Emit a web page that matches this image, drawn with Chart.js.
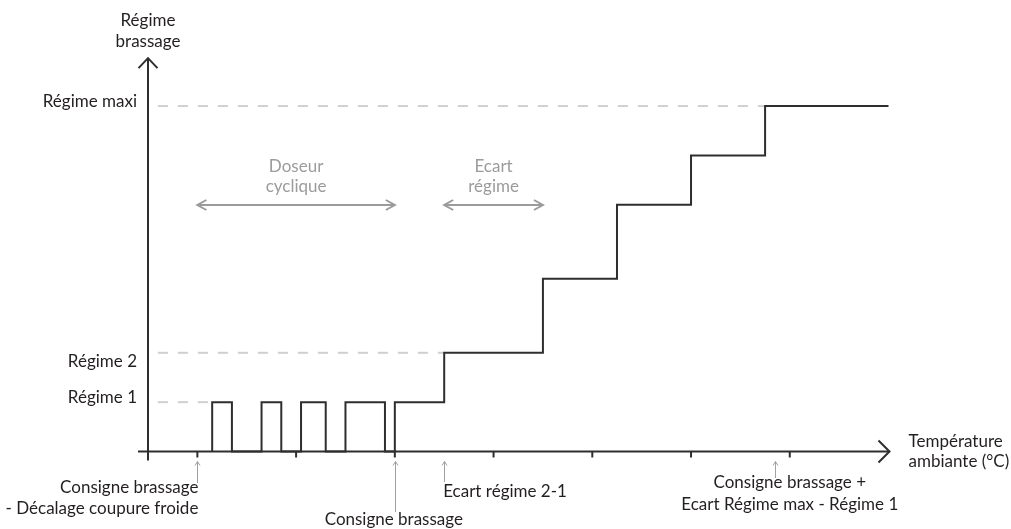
<!DOCTYPE html>
<html>
<head>
<meta charset="utf-8">
<script src="https://cdn.jsdelivr.net/npm/chart.js@4"></script>
<style>
html,body{margin:0;padding:0;background:#fff;}
#wrap{width:1011px;height:529px;}
</style>
</head>
<body>
<div id="wrap"><canvas id="c" width="1011" height="529"></canvas></div>
<script>
// ---- data ----
const temps  = [1.3, 1.3, 1.7, 2.3, 2.7, 3.1, 3.6, 4.0, 4.8, 5.0, 6.0, 8.0, 9.5, 11.0, 12.5, 15.0];
const levels = [0,   1,   0,   1,   0,   1,   0,   1,   0,   1,   2,   3.5, 5,   6,    7,    7];
const refLevels = [1, 2, 7];
const refLabels = ['Régime 1', 'Régime 2', 'Régime maxi'];
const refStart = 0.2;
const refEnds = [1.3, 6.0, 12.5];
const xTicks = [1, 3, 5, 7, 9, 11, 13];
const yTitle = ['Régime', 'brassage'];
const xTitle = ['Température', 'ambiante (°C)'];
const spanLabels = [['Doseur', 'cyclique'], ['Ecart', 'régime']];
const spanFrom = [1, 6];
const spanTo = [5, 8];
const markerX = [1, 5, 6, 12.7];
const markerLabels = [
  ['Consigne brassage', '- Décalage coupure froide'],
  ['Consigne brassage'],
  ['Ecart régime 2-1'],
  ['Consigne brassage +', 'Ecart Régime max - Régime 1']
];

const FONT = '17px Lato';
const DARK = '#231f20';
const LINE = '#2e2e2e';
const GREY = '#9b9b9b';

const refDatasets = refLevels.map((lv, i) => ({
  data: [{x: refStart, y: lv}, {x: refEnds[i], y: lv}],
  borderColor: '#cfcfcf', borderWidth: 2, borderDash: [10, 10],
  pointRadius: 0, clip: false, order: 2
}));

function line(ctx, x1, y1, x2, y2) { ctx.beginPath(); ctx.moveTo(x1, y1); ctx.lineTo(x2, y2); ctx.stroke(); }
function chevron(ctx, tx, ty, dx, dy, w) {
  const len = Math.hypot(dx, dy); const ux = dx/len, uy = dy/len;
  ctx.beginPath();
  ctx.moveTo(tx + ux*w.l - uy*w.h, ty + uy*w.l + ux*w.h);
  ctx.lineTo(tx, ty);
  ctx.lineTo(tx + ux*w.l + uy*w.h, ty + uy*w.l - ux*w.h);
  ctx.stroke();
}

const decor = {
  id: 'decor',
  afterDatasetsDraw(chart) {
    const ctx = chart.ctx; const xs = chart.scales.x, ys = chart.scales.y;
    const X = v => xs.getPixelForValue(v), Y = v => ys.getPixelForValue(v);
    ctx.save();
    ctx.lineCap = 'butt';
    // axes
    ctx.strokeStyle = LINE; ctx.lineWidth = 2;
    line(ctx, X(0), Y(0) + 9, X(0), Y(7.97));
    line(ctx, X(0) - 10, Y(0), X(15.02), Y(0));
    chevron(ctx, X(0), Y(7.97), 0, 1, {l: 10, h: 9.5});
    chevron(ctx, X(15.02), Y(0), -1, 0, {l: 11, h: 11});
    // ticks
    xTicks.forEach(t => line(ctx, X(t), Y(0), X(t), Y(0) + 6));
    // texts
    ctx.fillStyle = DARK; ctx.font = FONT; ctx.textBaseline = 'alphabetic';
    ctx.textAlign = 'center';
    ctx.fillText(yTitle[0], X(0), 26);
    ctx.fillText(yTitle[1], X(0), 47);
    ctx.textAlign = 'left';
    ctx.fillText(xTitle[0], X(15) + 20, Y(0) - 5);
    ctx.fillText(xTitle[1], X(15) + 20, Y(0) + 15);
    // level labels
    ctx.textAlign = 'right';
    const lblOff = {1: 1, 2: 14.5, 7: 1.3};
    refLevels.forEach((lv, i) => ctx.fillText(refLabels[i], X(0) - 11, Y(lv) + lblOff[lv]));
    // span arrows (grey)
    ctx.strokeStyle = GREY; ctx.fillStyle = GREY; ctx.lineWidth = 2;
    const spanY = 205;
    spanLabels.forEach((lab, i) => {
      const a = X(spanFrom[i]), b = X(spanTo[i]);
      line(ctx, a + 1, spanY, b - 1, spanY);
      chevron(ctx, a, spanY, 1, 0, {l: 9, h: 5});
      chevron(ctx, b, spanY, -1, 0, {l: 9, h: 5});
      ctx.textAlign = 'center';
      const cx = (a + b) / 2;
      ctx.fillText(lab[0], cx, 172);
      ctx.fillText(lab[1], cx, 192);
    });
    // markers under axis
    ctx.lineWidth = 1; ctx.strokeStyle = '#a0a0a0';
    const mBot = [483, 512, 482, 478];
    markerX.forEach((m, i) => {
      const x = Math.round(X(m)) + 0.5;
      line(ctx, x, Y(0) + 10, x, mBot[i]);
      chevron(ctx, x, Y(0) + 10, 0, 1, {l: 4, h: 2.5});
    });
    ctx.fillStyle = DARK;
    ctx.textAlign = 'right';
    ctx.fillText(markerLabels[0][0], X(markerX[0]) + 1, 493);
    ctx.fillText(markerLabels[0][1], X(markerX[0]) + 1, 514);
    ctx.textAlign = 'center';
    ctx.fillText(markerLabels[1][0], X(markerX[1]) - 1, 525);
    ctx.textAlign = 'left';
    ctx.fillText(markerLabels[2][0], X(markerX[2]) - 1, 497);
    ctx.textAlign = 'center';
    ctx.fillText(markerLabels[3][0], X(13), 488);
    ctx.fillText(markerLabels[3][1], X(13), 510);
    ctx.restore();
  }
};

new Chart(document.getElementById('c'), {
  type: 'line',
  data: {
    datasets: [
      {
        data: temps.map((t, i) => ({x: t, y: levels[i]})),
        stepped: 'before',
        borderColor: LINE, borderWidth: 2, pointRadius: 0, clip: false,
        fill: false, order: 1
      },
      ...refDatasets
    ]
  },
  options: {
    responsive: false, animation: false, devicePixelRatio: 1,
    layout: {padding: {left: 148, right: 122.5, top: 56.7, bottom: 77.5}},
    plugins: {legend: {display: false}, tooltip: {enabled: false}},
    events: [],
    scales: {
      x: {type: 'linear', min: 0, max: 15, display: false},
      y: {type: 'linear', min: 0, max: 8, display: false}
    }
  },
  plugins: [decor]
});
</script>
</body>
</html>
